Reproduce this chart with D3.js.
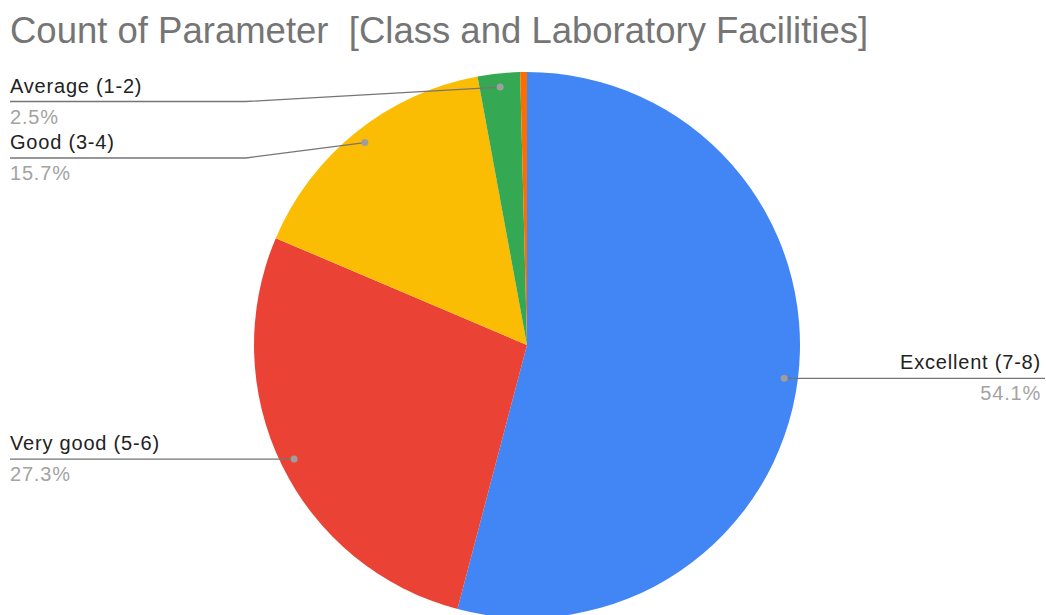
<!DOCTYPE html>
<html><head><meta charset="utf-8">
<script src="https://cdn.jsdelivr.net/npm/d3@7"></script>
<style>body{margin:0;background:#fff}svg{display:block}</style>
</head><body>
<svg id="chart" width="1046" height="615"></svg>
<script>
const categories = ["Excellent (7-8)", "Very good (5-6)", "Good (3-4)", "Average (1-2)", "Poor"];
const percents = [54.1, 27.3, 15.7, 2.5, 0.4];
const colors = ["#4285f4", "#ea4335", "#fbbc04", "#34a853", "#ff6d01"];
const showLabel = [true, true, true, true, false];
const titleText = "Count of Parameter\u00a0\u00a0[Class and Laboratory Facilities]";

const W = 1046, H = 615;
const cx = 527, cy = 345, R = 273;
const svg = d3.select("#chart");

svg.append("text").attr("x", 10).attr("y", 43)
  .attr("font-family", "Liberation Sans, Arial, sans-serif").attr("font-size", 36.5)
  .attr("fill", "#757575").text(titleText);

const data = categories.map((c, i) => ({name: c, value: percents[i], color: colors[i], show: showLabel[i]}));
const pie = d3.pie().value(d => d.value).sort(null);
const arcs = pie(data);
const arc = d3.arc().innerRadius(0).outerRadius(R);
const g = svg.append("g").attr("transform", `translate(${cx},${cy})`);
g.selectAll("path").data(arcs).join("path")
  .attr("d", arc).attr("fill", d => d.data.color);

// label layout (line y positions for left labels, side)
const layout = {
  "Excellent (7-8)": {side: "right", lineY: null},
  "Very good (5-6)": {side: "left", lineY: null},
  "Good (3-4)": {side: "left", lineY: 158},
  "Average (1-2)": {side: "left", lineY: 101.5}
};
const bendX = 246;
const labelFont = "Liberation Sans, Arial, sans-serif";
const fs = 20;

arcs.forEach(a => {
  if (!a.data.show) return;
  const mid = (a.startAngle + a.endAngle) / 2;
  const k = R * 0.95;
  const px = cx + k * Math.sin(mid), py = cy - k * Math.cos(mid);
  const L = layout[a.data.name];
  const ly = L.lineY == null ? py : L.lineY;
  let pts;
  let tx, anchor;
  if (L.side === "right") {
    pts = [[px, py], [W - 1, ly]];
    tx = W - 5; anchor = "end";
  } else {
    pts = Math.abs(ly - py) < 0.5 ? [[10, ly], [px, py]] : [[10, ly], [bendX, ly], [px, py]];
    tx = 10; anchor = "start";
  }
  svg.append("path").attr("d", d3.line()(pts)).attr("fill", "none")
    .attr("stroke", "#757575").attr("stroke-width", 1.3);
  svg.append("circle").attr("cx", px).attr("cy", py).attr("r", 3.5).attr("fill", "#9e9e9e");
  svg.append("text").attr("x", tx).attr("y", ly - 9).attr("text-anchor", anchor)
    .attr("font-family", labelFont).attr("font-size", fs).attr("letter-spacing", 0.8)
    .attr("fill", "#222").text(a.data.name);
  svg.append("text").attr("x", tx).attr("y", ly + 22).attr("text-anchor", anchor)
    .attr("font-family", labelFont).attr("font-size", fs).attr("letter-spacing", 0.8)
    .attr("fill", "#a3a3a3")
    .text(d3.format(".1f")(a.data.value) + "%");
});
</script>
</body></html>
